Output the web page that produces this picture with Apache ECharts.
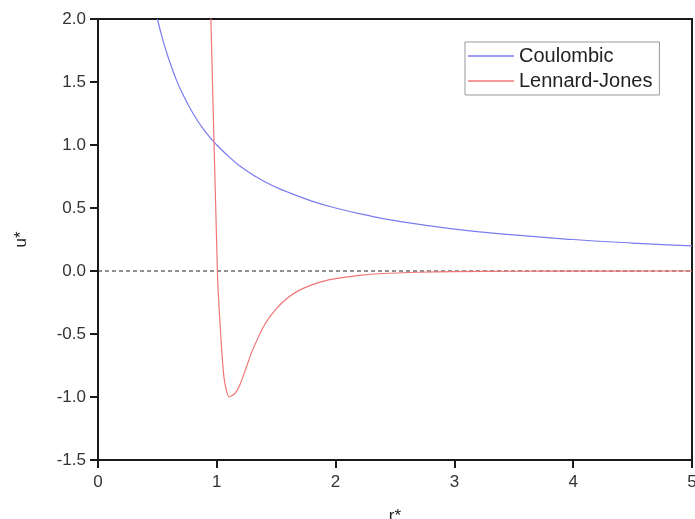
<!DOCTYPE html>
<html>
<head>
<meta charset="utf-8">
<script src="https://cdn.jsdelivr.net/npm/echarts@6/dist/echarts.min.js"></script>
<style>html,body{margin:0;padding:0;background:#fff;overflow:hidden}#c{width:695px;height:519px}</style>
</head>
<body>
<div id="c"></div>
<script>
// Coulombic curve
const coulR = [0.5, 0.55, 0.6, 0.65, 0.7, 0.8, 0.9, 1.0, 1.1, 1.2, 1.4, 1.6, 1.8, 2.0, 2.25, 2.5, 3.0, 3.5, 4.0, 4.5, 5.0];
const coulU = [2.0, 1.82, 1.67, 1.54, 1.43, 1.25, 1.11, 1.0, 0.91, 0.83, 0.71, 0.625, 0.555, 0.5, 0.445, 0.4, 0.333, 0.286, 0.25, 0.222, 0.2];
// Lennard-Jones curve
const ljR = [0.945, 1.005, 1.02, 1.06, 1.105, 1.155, 1.2, 1.25, 1.3, 1.4, 1.5, 1.6, 1.7, 1.8, 1.9, 2.0, 2.2, 2.4, 2.7, 3.0, 3.5, 4.0, 5.0];
const ljU = [2.2, 0.0, -0.3, -0.84, -1.0, -0.97, -0.89, -0.76, -0.63, -0.43, -0.30, -0.21, -0.15, -0.11, -0.08, -0.06, -0.035, -0.02, -0.01, -0.005, -0.002, -0.001, 0.0];
// Zero reference line
const zeroR = [0, 5];
const zeroU = [0, 0];
const seriesNames = ['Coulombic', 'Lennard-Jones'];

const pair = (xs, ys) => xs.map((x, i) => [x, ys[i]]);
const font = "'Liberation Sans', Arial, sans-serif";

const chart = echarts.init(document.getElementById('c'), null, {renderer: 'canvas', width: 695, height: 519});
chart.setOption({
  animation: false,
  backgroundColor: '#fff',
  grid: {left: 98, right: 3, top: 19, bottom: 59, outerBoundsMode: 'none', containLabel: false,
         show: true, borderColor: '#1a1a1a', borderWidth: 2, backgroundColor: 'transparent'},
  legend: {
    orient: 'vertical', left: 465, top: 42,
    data: seriesNames,
    icon: 'rect', itemWidth: 46, itemHeight: 1.5, itemGap: 5,
    padding: [4, 7, 4, 3],
    borderColor: '#999', borderWidth: 1,
    textStyle: {fontFamily: font, fontSize: 20, color: '#222'}
  },
  xAxis: {
    type: 'value', min: 0, max: 5, interval: 1,
    name: 'r*', nameLocation: 'middle', nameGap: 48,
    nameTextStyle: {fontFamily: font, fontSize: 17, color: '#222'},
    axisLine: {show: true, onZero: false, lineStyle: {color: '#1a1a1a', width: 2}},
    axisTick: {show: true, inside: false, length: 8, lineStyle: {color: '#1a1a1a', width: 2}},
    axisLabel: {fontFamily: font, fontSize: 17, color: '#333', margin: 14},
    splitLine: {show: false}
  },
  yAxis: {
    type: 'value', min: -1.5, max: 2.0, interval: 0.5,
    name: 'u*', nameLocation: 'middle', nameGap: 68, nameRotate: 90,
    nameTextStyle: {fontFamily: font, fontSize: 17, color: '#222'},
    axisLine: {show: true, onZero: false, lineStyle: {color: '#1a1a1a', width: 2}},
    axisTick: {show: true, inside: false, length: 8, lineStyle: {color: '#1a1a1a', width: 2}},
    axisLabel: {fontFamily: font, fontSize: 17, color: '#333', margin: 12, formatter: v => v.toFixed(1)},
    splitLine: {show: false}
  },
  series: [
    {
      name: 'zero', type: 'line', data: pair(zeroR, zeroU), symbol: 'none', silent: true,
      lineStyle: {color: '#222', width: 1, type: [4, 3]}
    },
    {
      name: seriesNames[0], type: 'line', data: pair(coulR, coulU), symbol: 'none', smooth: true,
      color: '#7b7bf0', lineStyle: {color: '#7b7bf0', width: 1.2}, clip: true
    },
    {
      name: seriesNames[1], type: 'line', data: pair(ljR, ljU), symbol: 'none', smooth: 0.25,
      color: '#f07676', lineStyle: {color: '#f07676', width: 1.2}, clip: true
    }
  ]
});
</script>
</body>
</html>
